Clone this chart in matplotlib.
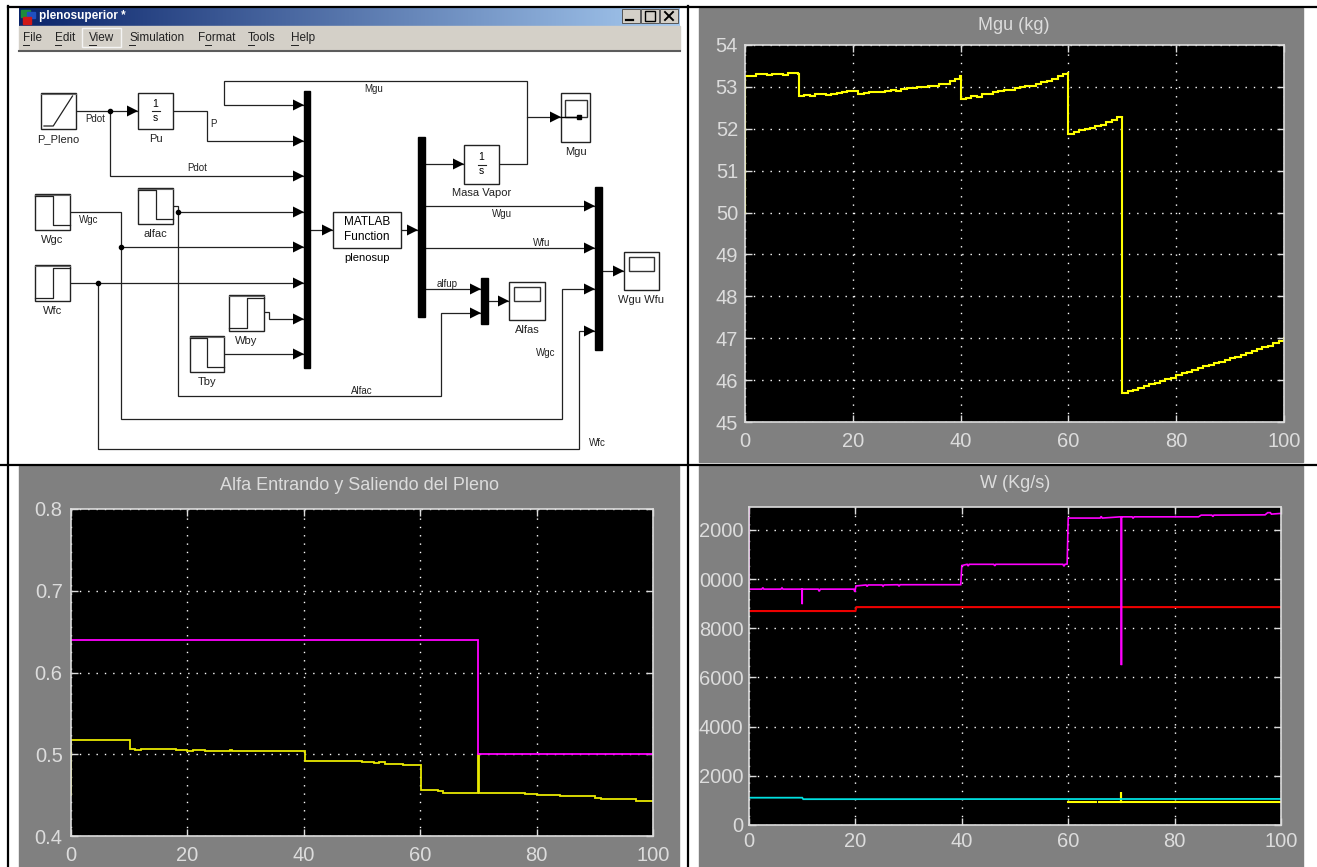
"""Captura con el diagrama plenosuperior y las tres graficas de los scopes."""

import matplotlib

matplotlib.use("Agg")
import matplotlib.pyplot as plt
import numpy as np
from matplotlib.patches import Rectangle

W_PX, H_PX = 1317, 867
GRAY = "#808080"
LIGHT = "#dcdcdc"
SCOPE_FONT = "Liberation Sans"

XTICKS = [0, 20, 40, 60, 80, 100]

# --- datos de los scopes ---
MGU_T = ([0, 0, 2, 4, 5, 7, 8, 9, 9.8] + list(range(10, 40)) + [39.8] + list(range(40, 60)) + [59.9]
         + list(range(60, 70)) + [69.9] + list(range(70, 101)))
MGU_V = [50, 53.26, 53.3, 53.28, 53.3, 53.29, 53.32, 53.33, 53.3,
         52.78, 52.80, 52.79, 52.82, 52.83, 52.81, 52.84, 52.86, 52.87, 52.9,
         52.89, 52.83, 52.85, 52.87, 52.88, 52.87, 52.9, 52.92, 52.9, 52.94,
         52.98, 52.97, 52.99, 53.0, 53.03, 53.02, 53.06, 53.08, 53.14, 53.18, 53.26,
         52.70, 52.74, 52.78, 52.77, 52.82, 52.84, 52.87, 52.9, 52.93, 52.92,
         52.97, 53.0, 53.03, 53.02, 53.08, 53.12, 53.15, 53.18, 53.25, 53.3, 53.36,
         51.88, 51.93, 51.96, 52.0, 52.03, 52.07, 52.1, 52.16, 52.2, 52.27, 52.3,
         45.7, 45.74, 45.76, 45.8, 45.86, 45.9, 45.94, 45.98, 46.02, 46.06,
         46.12, 46.16, 46.2, 46.24, 46.28, 46.33, 46.36, 46.4, 46.44, 46.48,
         46.52, 46.56, 46.6, 46.64, 46.7, 46.74, 46.78, 46.82, 46.88, 46.94, 47.0]

ALFA_IN_T = [0, 0, 70, 70, 100]
ALFA_IN_V = [0.64, 0.64, 0.64, 0.5, 0.5]
ALFA_OUT_T = [0, 0, 9.8, 10.2, 11, 12, 13, 14, 16, 18, 20, 21, 23, 24, 27.4, 27.7, 30,
              39.8, 40.2, 50, 52, 53, 54, 56, 57, 59.9, 60.1, 63, 64, 69.9, 70, 70.1,
              72, 78, 80, 84, 90, 91, 96, 97, 100]
ALFA_OUT_V = [0.45, 0.518, 0.518, 0.506, 0.505, 0.507, 0.506, 0.506, 0.506, 0.505,
              0.504, 0.505, 0.504, 0.504, 0.505, 0.504, 0.504, 0.504, 0.492, 0.491,
              0.489, 0.490, 0.488, 0.488, 0.487, 0.487, 0.456, 0.455, 0.453, 0.453,
              0.50, 0.453, 0.452, 0.451, 0.450, 0.449, 0.447, 0.445, 0.445, 0.443,
              0.443]

W_GU_T = [0, 0, 2.4, 2.6, 2.8, 6, 6.2, 6.4, 10, 10, 10, 13, 13.2, 13.4, 19.7, 19.9, 20.1,
          22, 22.2, 22.4, 25, 25.2, 25.4, 28, 28.2, 28.4, 39.8, 40, 41, 41.2, 41.4, 46,
          46.2, 46.4, 59, 59.2, 59.4, 59.8, 60, 66, 66.2, 66.4, 69.8, 70, 70, 70, 72,
          72.2, 72.4, 84.5, 85, 87, 87.2, 87.4, 97, 97.5, 98, 98.2, 100]
W_GU_V = [12900, 9590, 9590, 9650, 9590, 9590, 9640, 9590, 9590, 8980, 9590, 9590, 9500,
          9590, 9590, 9480, 9720, 9760, 9700, 9760, 9760, 9710, 9760, 9770, 9710, 9770,
          9770, 10550, 10600, 10530, 10600, 10600, 10540, 10600, 10600, 10520, 10600,
          10610, 12480, 12480, 12550, 12480, 12530, 12530, 6500, 12530, 12530, 12470,
          12530, 12530, 12600, 12600, 12540, 12600, 12610, 12700, 12700, 12640, 12670]
W_FU_T = [0, 20, 20.2, 100]
W_FU_V = [8700, 8700, 8860, 8860]
W_CY_T = [0, 10, 10.2, 100]
W_CY_V = [1110, 1110, 1050, 1060]
W_YL_T = [60, 65.3, 65.5, 65.7, 70, 70, 70, 100]
W_YL_V = [950, 950, np.nan, 950, 950, 1340, 950, 950]

# --- diagrama: [x0, y0, x1, y1] en pixeles de la captura ---
SOURCE_BLOCKS = [
    ("P_Pleno", [41, 93, 76, 129], "ramp"),
    ("Wgc", [35, 194, 70, 230], "down"),
    ("alfac", [138, 188, 173, 224], "down"),
    ("Wfc", [35, 265, 70, 301], "up"),
    ("Wby", [229, 295, 264, 331], "up"),
    ("Tby", [190, 336, 224, 372], "down"),
]
INTEGRATORS = [("Pu", [138, 93, 173, 129]), ("Masa Vapor", [464, 145, 499, 184])]
SCOPES = [
    ("Mgu", [561, 93, 590, 142], [565, 100, 587, 117]),
    ("Alfas", [509, 282, 545, 320], [514, 287, 540, 301]),
    ("Wgu Wfu", [624, 252, 659, 290], [629, 257, 654, 271]),
]
MUX_BARS = [[304, 91, 310, 368], [418, 137, 425, 317], [595, 187, 602, 350], [481, 278, 488, 324]]
ARROW_WIRES = [
    [(76, 111), (138, 111)],
    [(173, 111), (207, 111), (207, 141), (304, 141)],
    [(110, 111), (110, 176), (304, 176)],
    [(527, 117), (527, 81), (224, 81), (224, 105), (304, 105)],
    [(499, 164), (527, 164), (527, 117), (561, 117)],
    [(173, 206), (178, 206), (178, 212), (304, 212)],
    [(70, 212), (121, 212), (121, 419), (562, 419), (562, 289), (595, 289)],
    [(121, 247), (304, 247)],
    [(70, 283), (304, 283)],
    [(98, 283), (98, 449), (579, 449), (579, 331), (595, 331)],
    [(178, 212), (178, 396), (441, 396), (441, 313), (481, 313)],
    [(264, 312), (269, 312), (269, 319), (304, 319)],
    [(224, 354), (304, 354)],
    [(310, 230), (333, 230)],
    [(401, 230), (418, 230)],
    [(425, 164), (464, 164)],
    [(425, 206), (595, 206)],
    [(425, 248), (595, 248)],
    [(425, 289), (481, 289)],
    [(488, 301), (509, 301)],
    [(602, 271), (624, 271)],
]
JUNCTIONS = [(110, 111), (178, 212), (121, 247), (98, 283)]
WIRE_LABELS = [
    ("Pdot", 95, 119), ("P", 213, 124), ("Pdot", 197, 168), ("Mgu", 374, 89),
    ("Wgc", 89, 220), ("Wgu", 502, 214), ("Wfu", 542, 243), ("alfup", 447, 284),
    ("Alfac", 362, 391), ("Wgc", 546, 353), ("Wfc", 597, 443),
]
MENU_ITEMS = [("File", 23), ("Edit", 55), ("View", 89), ("Simulation", 129),
              ("Format", 198), ("Tools", 248), ("Help", 291)]
MENU_UNDERLINE = [(23, 29), (55, 61), (89, 96), (129, 135), (205, 211), (248, 254), (291, 298)]


def px_axes(fig, left, top, right, bottom):
    return fig.add_axes([left / W_PX, 1 - bottom / H_PX, (right - left) / W_PX, (bottom - top) / H_PX])


def draw_scope(fig, box, ylim, yticks, ylabels, title, title_xy, series, pady, padx):
    ax = px_axes(fig, *box)
    ax.set_facecolor("black")
    ax.set_xlim(0, 100)
    ax.set_ylim(*ylim)
    ax.set_xticks(XTICKS)
    ax.set_yticks(yticks)
    ax.set_yticklabels(ylabels)
    ax.tick_params(axis="both", direction="in", length=5, width=1, color=LIGHT, top=True, right=True,
                   labelcolor=LIGHT, labelsize=14.5)
    ax.tick_params(axis="x", pad=padx)
    ax.tick_params(axis="y", pad=pady)
    for lbl in ax.get_xticklabels() + ax.get_yticklabels():
        lbl.set_family(SCOPE_FONT)
    for s in ax.spines.values():
        s.set_color(LIGHT)
        s.set_linewidth(1.2)
    ax.grid(True, color="white", linewidth=1.0, linestyle=(0, (1, 5)))
    ax.set_axisbelow(True)
    for t, v, c, lw, ds in series:
        ax.plot(t, v, color=c, linewidth=lw, drawstyle=ds, solid_joinstyle="miter")
    bg = fig.axes[0]
    bg.text(title_xy[0], title_xy[1], title, color=LIGHT, fontsize=13, family=SCOPE_FONT, ha="center", va="center")
    return ax


def draw_glyph(bg, box, kind):
    x0, y0, x1, y1 = box
    w, h = x1 - x0, y1 - y0
    if kind == "ramp":
        xs = [x0 + 3, x0 + 0.35 * w, x0 + 0.9 * w]
        ys = [y1 - 3, y1 - 3, y0 + 3]
    elif kind == "down":
        xs = [x0, x0 + 0.5 * w, x0 + 0.5 * w, x1]
        ys = [y0 + 2, y0 + 2, y1 - 5, y1 - 5]
    else:
        xs = [x0, x0 + 0.5 * w, x0 + 0.5 * w, x1]
        ys = [y1 - 3, y1 - 3, y0 + 3, y0 + 3]
    bg.plot(xs, ys, color="#222222", lw=0.9, zorder=5)


def draw_diagram(bg):
    # barra de titulo con degradado
    grad = np.linspace(0, 1, 256).reshape(1, -1)
    cmap = matplotlib.colors.LinearSegmentedColormap.from_list("tb", ["#0a246a", "#a6caf0"])
    bg.imshow(grad, extent=[19, 680, 26, 8], aspect="auto", cmap=cmap, zorder=1)
    bg.set_xlim(0, W_PX)
    bg.set_ylim(H_PX, 0)
    bg.text(39, 16, "plenosuperior *", color="white", fontsize=8.5, weight="bold", family="Liberation Sans",
            va="center", zorder=3)
    for rect, col in [([21, 10, 9, 7], "#1c8c3c"), ([27, 12, 8, 6], "#2050c0"), ([23, 17, 8, 7], "#d01818")]:
        bg.add_patch(Rectangle(rect[:2], rect[2], rect[3], color=col, zorder=3))
    for x0, sym in [(622, "min"), (641, "max"), (660, "x")]:
        bg.add_patch(Rectangle((x0, 9), 18, 14, facecolor="#d4d0c8", edgecolor="#555555", lw=0.7, zorder=3))
        if sym == "min":
            bg.plot([626, 633], [20, 20], color="black", lw=1.6, zorder=4)
        elif sym == "max":
            bg.add_patch(Rectangle((645, 11), 10, 10, fill=False, edgecolor="black", lw=1.0, zorder=4))
        else:
            bg.plot([665, 673], [12, 20], color="black", lw=1.4, zorder=4)
            bg.plot([665, 673], [20, 12], color="black", lw=1.4, zorder=4)

    # menu
    bg.add_patch(Rectangle((19, 26), 661, 24, color="#d4d0c8", zorder=1))
    bg.plot([19, 680], [50.5, 50.5], color="#5c5c5c", lw=1.5, zorder=2)
    bg.add_patch(Rectangle((82, 28), 39, 19, fill=False, edgecolor="#f4f4f4", lw=1, zorder=2))
    for name, x in MENU_ITEMS:
        bg.text(x, 38, name, fontsize=8.5, color="#222222", family="Liberation Sans", va="center", zorder=3)
    for x0, x1 in MENU_UNDERLINE:
        bg.plot([x0, x1], [45, 45], color="#222222", lw=0.7, zorder=3)

    # cables
    for pts in ARROW_WIRES:
        xs, ys = zip(*pts)
        bg.plot(xs, ys, color="#222222", lw=0.9, zorder=2, solid_joinstyle="miter")
        tip = pts[-1]
        tail = pts[-2]
        d = 1 if tip[0] > tail[0] else -1
        bg.fill([tip[0], tip[0] - d * 11, tip[0] - d * 11], [tip[1], tip[1] - 5.5, tip[1] + 5.5], color="black", lw=0, zorder=3)
    for x, y in JUNCTIONS:
        bg.plot([x], [y], "o", color="black", ms=3, zorder=3)

    # bloques
    for name, box, kind in SOURCE_BLOCKS:
        x0, y0, x1, y1 = box
        bg.add_patch(Rectangle((x0, y0), x1 - x0, y1 - y0, facecolor="white", edgecolor="#222222", lw=1, zorder=4))
        bg.plot([x0, x1], [y0 + 1, y0 + 1], color="#666666", lw=0.8, zorder=5)
        draw_glyph(bg, box, kind)
        bg.text((x0 + x1) / 2, y1 + 10, name, fontsize=8, color="#222222", family="Liberation Sans", ha="center",
                va="center", zorder=5)
    for name, box in INTEGRATORS:
        x0, y0, x1, y1 = box
        xc, yc = (x0 + x1) / 2, (y0 + y1) / 2
        bg.add_patch(Rectangle((x0, y0), x1 - x0, y1 - y0, facecolor="white", edgecolor="#222222", lw=1, zorder=4))
        bg.plot([xc - 4, xc + 4], [yc, yc], color="#222222", lw=0.8, zorder=5)
        bg.text(xc, yc - 7, "1", fontsize=7.5, family="Liberation Sans", ha="center", va="center", zorder=5)
        bg.text(xc, yc + 7, "s", fontsize=7.5, family="Liberation Sans", ha="center", va="center", zorder=5)
        bg.text(xc, y1 + 9.5, name, fontsize=8, color="#222222", family="Liberation Sans", ha="center",
                va="center", zorder=5)
    for name, box, screen in SCOPES:
        x0, y0, x1, y1 = box
        sx0, sy0, sx1, sy1 = screen
        bg.add_patch(Rectangle((x0, y0), x1 - x0, y1 - y0, facecolor="white", edgecolor="#222222", lw=1, zorder=4))
        bg.add_patch(Rectangle((sx0, sy0), sx1 - sx0, sy1 - sy0, facecolor="white", edgecolor="#333333", lw=1, zorder=5))
        bg.text((x0 + x1) / 2, y1 + 10, name, fontsize=8, color="#222222", family="Liberation Sans", ha="center",
                va="center", zorder=5)
    bg.plot([561, 579], [117, 117], color="black", lw=1, zorder=6)
    bg.plot([579], [117], "s", color="black", ms=2.5, zorder=6)
    for x0, y0, x1, y1 in MUX_BARS:
        bg.add_patch(Rectangle((x0, y0), x1 - x0, y1 - y0, color="black", zorder=5))

    bg.add_patch(Rectangle((333, 212), 68, 36, facecolor="white", edgecolor="#222222", lw=1, zorder=4))
    bg.text(367, 222, "MATLAB", fontsize=8.5, family="Liberation Sans", ha="center", va="center", zorder=5)
    bg.text(367, 237, "Function", fontsize=8.5, family="Liberation Sans", ha="center", va="center", zorder=5)
    bg.text(367, 258, "plenosup", fontsize=8, family="Liberation Sans", ha="center", va="center", zorder=5)

    for txt, x, y in WIRE_LABELS:
        bg.text(x, y, txt, fontsize=7, color="#222222", family="Liberation Sans", ha="center", va="center", zorder=5)


def main():
    fig = plt.figure(figsize=(W_PX / 100, H_PX / 100), dpi=100, facecolor="white")
    bg = fig.add_axes([0, 0, 1, 1])
    bg.set_xlim(0, W_PX)
    bg.set_ylim(H_PX, 0)
    bg.axis("off")

    # paneles grises
    bg.add_patch(Rectangle((699, 8), 604, 454, color=GRAY, zorder=0))
    bg.add_patch(Rectangle((19, 466), 660, 401, color=GRAY, zorder=0))
    bg.add_patch(Rectangle((699, 466), 604, 401, color=GRAY, zorder=0))

    draw_diagram(bg)

    # lineas de la tabla
    bg.plot([8, 8], [6, 867], color="black", lw=1.6, zorder=6)
    bg.plot([687.5, 687.5], [6, 867], color="black", lw=1.6, zorder=6)
    bg.plot([8, 1317], [7, 7], color="black", lw=1.6, zorder=6)
    bg.plot([0, 1317], [464.5, 464.5], color="black", lw=1.6, zorder=6)

    draw_scope(fig, (745, 45, 1284, 422), (45, 54), list(range(45, 55)),
               [str(v) for v in range(45, 55)], "Mgu (kg)", (1014, 25),
               [(MGU_T, MGU_V, "#ffff00", 1.5, "steps-post")], 5, 7)
    draw_scope(fig, (71, 509, 653, 836), (0.4, 0.8), [0.4, 0.5, 0.6, 0.7, 0.8],
               ["0.4", "0.5", "0.6", "0.7", "0.8"], "Alfa Entrando y Saliendo del Pleno", (359, 486),
               [(ALFA_OUT_T, ALFA_OUT_V, "#e8e800", 1.3, "steps-post"),
                (ALFA_IN_T, ALFA_IN_V, "#ff00ff", 1.3, "default")], 6, 7)
    draw_scope(fig, (749, 507, 1281, 825), (0, 12930), [0, 2000, 4000, 6000, 8000, 10000, 12000],
               ["0", "2000", "4000", "6000", "8000", "0000", "2000"], "W (Kg/s)", (1015, 484),
               [(W_YL_T, W_YL_V, "#ffff00", 1.5, "default"),
                (W_CY_T, W_CY_V, "#00e0e0", 1.3, "default"),
                (W_FU_T, W_FU_V, "#ee0000", 1.5, "default"),
                (W_GU_T, W_GU_V, "#ff00ff", 1.2, "default")], 4, 5)

    fig.savefig("out.png", dpi=100, facecolor="white")
    plt.close(fig)


if __name__ == "__main__":
    main()
